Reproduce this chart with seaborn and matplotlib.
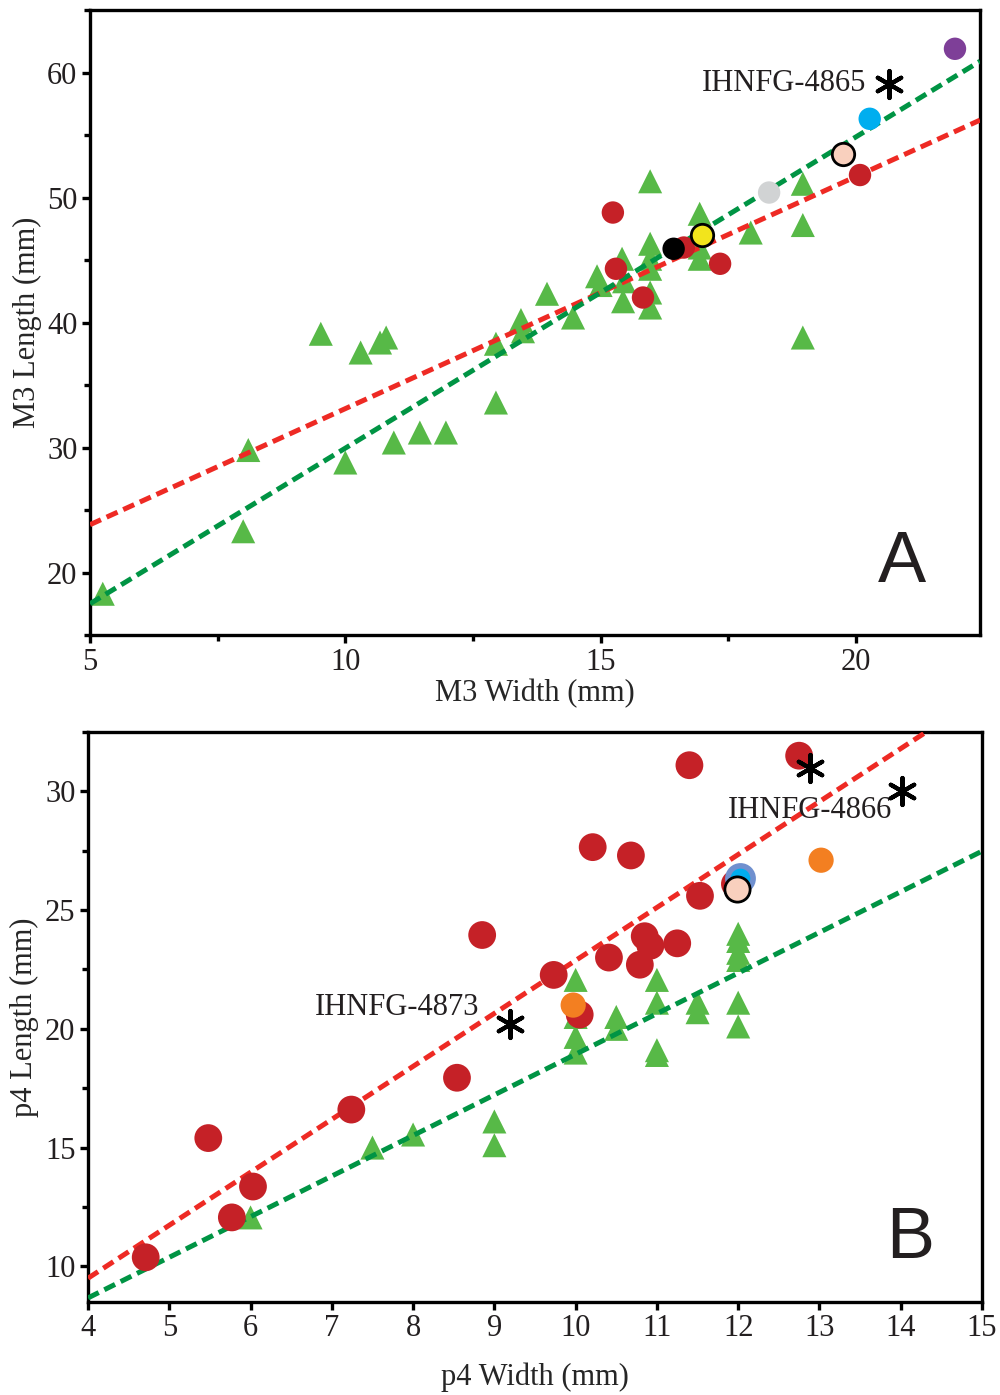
import matplotlib
matplotlib.use("Agg")
import matplotlib.pyplot as plt
import numpy as np
import pandas as pd
import seaborn as sns
from matplotlib.ticker import MultipleLocator

# ---- Panel A: M3 width vs length ----
a_tri_x = [5.25, 8.0, 8.1, 9.52, 10.0, 10.3, 10.68, 10.8, 10.95, 11.46, 11.97, 12.95, 12.95,
           13.44, 13.48, 13.95, 14.46, 14.93, 15.0, 15.42, 15.46, 15.44, 15.97, 15.97, 15.97,
           15.97, 15.97, 15.97, 16.94, 16.94, 16.94, 17.94, 18.96, 18.96, 18.96]
a_tri_y = [18.3, 23.3, 29.8, 39.1, 28.8, 37.6, 38.4, 38.8, 30.4, 31.2, 31.2, 38.3, 33.6,
           40.2, 39.3, 42.3, 40.4, 43.7, 43.0, 45.1, 43.3, 41.7, 51.3, 46.3, 45.1,
           44.3, 42.4, 41.2, 48.7, 46.0, 45.1, 47.2, 51.1, 47.8, 38.8]
a_circ_x = [15.24, 15.30, 15.83, 16.63, 17.34, 20.08]
a_circ_y = [48.8, 44.3, 42.0, 46.0, 44.7, 51.8]
a_extra_name = ["black", "yellow", "grey", "peach", "blue", "purple"]
a_extra_x = [16.43, 16.98, 18.3, 19.74, 20.27, 21.94]
a_extra_y = [45.9, 47.0, 50.4, 53.5, 56.3, 61.9]
a_star_x = [20.65]
a_star_y = [59.1]
a_star_label = ["IHNFG-4865"]
a_fit_red = [1.857, 14.54]    # slope, intercept
a_fit_green = [2.49, 5.05]

# ---- Panel B: p4 width vs length ----
b_tri_x = [6.0, 7.5, 8.0, 9.0, 9.0, 10.0, 10.0, 10.0, 10.0, 10.5, 10.5, 11.0, 11.0, 11.0,
           11.0, 11.5, 11.5, 12.0, 12.0, 12.0, 12.0, 12.0, 12.0]
b_tri_y = [12.06, 15.0, 15.55, 16.1, 15.1, 22.06, 20.5, 19.66, 19.0, 20.5, 20.0, 22.06, 21.1, 19.1,
           18.9, 21.1, 20.7, 24.0, 23.7, 23.2, 22.9, 21.1, 20.1]
b_circ_x = [4.71, 5.48, 5.77, 6.03, 7.24, 8.54, 8.85, 9.73, 10.05, 10.21, 10.41, 10.68, 10.79,
            10.85, 10.92, 11.25, 11.40, 11.53, 11.96, 12.75]
b_circ_y = [10.38, 15.4, 12.06, 13.36, 16.6, 17.94, 23.95, 22.27, 20.6, 27.65, 23.0, 27.3, 22.7,
            23.9, 23.5, 23.6, 31.1, 25.6, 26.1, 31.5]
b_extra_name = ["orange", "orange", "blue", "peach"]
b_extra_x = [9.97, 13.02, 12.02, 11.99]
b_extra_y = [21.0, 27.1, 26.35, 25.9]
b_star_x = [9.19, 12.88, 14.02]
b_star_y = [20.2, 31.0, 30.0]
b_fit_red = [2.23, 0.58]
b_fit_green = [1.71, 1.83]

colors = {"black": "#000000", "yellow": "#F2E41C", "grey": "#D1D3D4", "peach": "#F9D0BE",
          "blue": "#00AEEF", "purple": "#7E3F98", "orange": "#F37F21"}
edges_a = {"yellow": "black", "peach": "black"}
edges_b = {"peach": "black", "blue": "#7090CF"}

sns.set_style("ticks")
plt.rcParams['font.family'] = ['Liberation Serif', 'DejaVu Serif']
plt.rcParams['text.color'] = '#231F20'

fig = plt.figure(figsize=(10, 13.95), dpi=100)
axA = fig.add_axes([0.09, 0.5448, 0.89, 0.448])
axB = fig.add_axes([0.088, 0.0667, 0.894, 0.4086])


def draw_panel(ax, tri_x, tri_y, circ_x, circ_y, ex_name, ex_x, ex_y, edges, fit_r, fit_g,
               xlim, tri_s, circ_s, ex_s):
    sns.scatterplot(x=tri_x, y=tri_y, marker='^', s=tri_s, color='#57B947', edgecolor='none',
                    ax=ax, zorder=2)
    xs = np.array(xlim)
    sns.lineplot(x=xs, y=fit_r[0] * xs + fit_r[1], color='#EE2A24', lw=3.6,
                 linestyle=(0, (2.4, 1.25)), ax=ax, zorder=3)
    sns.lineplot(x=xs, y=fit_g[0] * xs + fit_g[1], color='#009444', lw=3.6,
                 linestyle=(0, (2.4, 1.25)), ax=ax, zorder=3)
    sns.scatterplot(x=circ_x, y=circ_y, marker='o', s=circ_s, color='#C52127', edgecolor='none',
                    ax=ax, zorder=4)
    for n, x, y in zip(ex_name, ex_x, ex_y):
        ec = edges.get(n, 'none')
        lw = 4 if n == 'blue' else 2
        if ec == 'none':
            lw = 0
        sns.scatterplot(x=[x], y=[y], marker='o', s=ex_s, color=colors[n], edgecolor=ec,
                        linewidth=lw, ax=ax, zorder=5)
    ax.set_xlim(*xlim)
    for sp in ax.spines.values():
        sp.set_linewidth(2.4)
        sp.set_color('black')
        sp.set_visible(True)
    ax.tick_params(which='major', direction='out', length=6, width=2.4, labelsize=22,
                   pad=3, color='black', labelcolor='#231F20')
    ax.tick_params(which='minor', direction='out', length=4, width=2.4, color='black')


draw_panel(axA, a_tri_x, a_tri_y, a_circ_x, a_circ_y, a_extra_name, a_extra_x, a_extra_y,
           edges_a, a_fit_red, a_fit_green, (5, 22.43), 300, 260, 260)
sns.scatterplot(x=a_star_x, y=a_star_y, marker=(6, 2, 0), s=380, color='black', linewidth=3,
                ax=axA, zorder=6)
axA.text(20.2, 59.1, a_star_label[0], fontsize=22, ha='right', va='center')
axA.set_ylim(15, 65)
axA.xaxis.set_major_locator(MultipleLocator(5))
axA.xaxis.set_minor_locator(MultipleLocator(2.5))
axA.yaxis.set_major_locator(MultipleLocator(10))
axA.yaxis.set_minor_locator(MultipleLocator(5))
axA.set_xlabel("M3 Width (mm)", fontsize=22, labelpad=2)
axA.set_ylabel("M3 Length (mm)", fontsize=22, labelpad=4)
axA.text(0.912, 0.115, "A", transform=axA.transAxes, fontsize=52, ha='center', va='center',
         family='Liberation Sans')

draw_panel(axB, b_tri_x, b_tri_y, b_circ_x, b_circ_y, b_extra_name, b_extra_x, b_extra_y,
           edges_b, b_fit_red, b_fit_green, (4, 15), 300, 400, 330)
sns.scatterplot(x=b_star_x, y=b_star_y, marker=(6, 2, 0), s=380, color='black', linewidth=3,
                ax=axB, zorder=6)
axB.text(8.82, 20.88, "IHNFG-4873", fontsize=22, ha='right', va='center')
axB.text(12.88, 29.2, "IHNFG-4866", fontsize=22, ha='center', va='center')
axB.set_ylim(8.5, 32.5)
axB.xaxis.set_major_locator(MultipleLocator(1))
axB.yaxis.set_major_locator(MultipleLocator(5))
axB.yaxis.set_minor_locator(MultipleLocator(2.5))
axB.set_xlabel("p4 Width (mm)", fontsize=22, labelpad=14)
axB.set_ylabel("p4 Length (mm)", fontsize=22, labelpad=4)
axB.text(0.92, 0.11, "B", transform=axB.transAxes, fontsize=52, ha='center', va='center',
         family='Liberation Sans')

fig.savefig("out.png", dpi=100)
